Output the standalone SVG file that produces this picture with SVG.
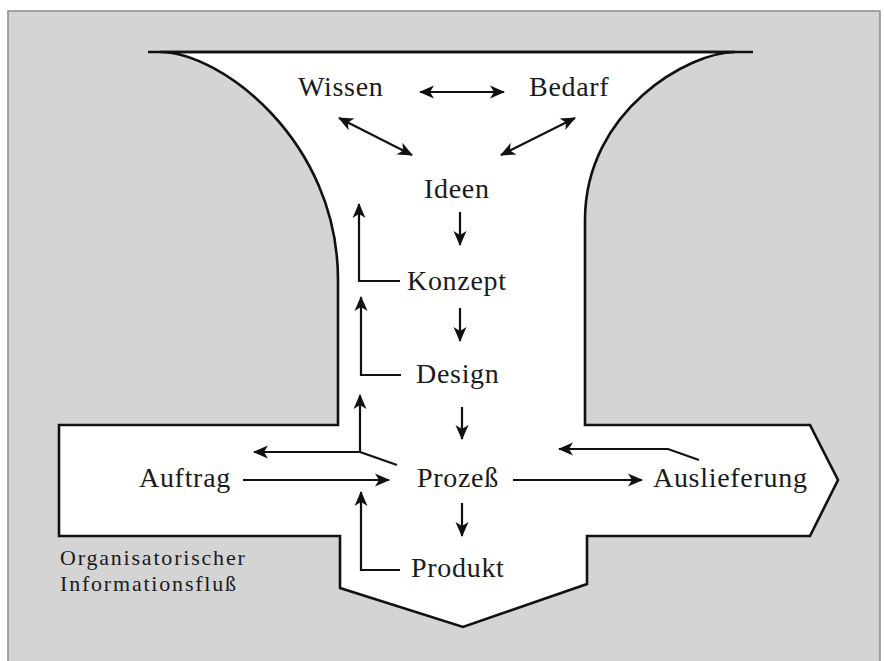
<svg xmlns="http://www.w3.org/2000/svg" width="884" height="661" viewBox="0 0 884 661">
<style>
.lbl{font-family:"Liberation Serif","Times New Roman",serif;font-size:28px;letter-spacing:0.7px;fill:#1a1a1a}
.small{font-family:"Liberation Serif","Times New Roman",serif;font-size:22px;letter-spacing:1.8px;fill:#1a1a1a}
.edge{fill:none;stroke:#111;stroke-width:2.2}
.outline{fill:#fff;stroke:#111;stroke-width:2.6;stroke-linejoin:miter}
</style>
<defs>
<marker id="ah" viewBox="-15 -7 16 14" refX="0" refY="0" markerWidth="16" markerHeight="14" markerUnits="userSpaceOnUse" orient="auto-start-reverse">
<path d="M1,0 L-14,-6.5 L-10,0 L-14,6.5 Z" fill="#111"/>
</marker>
</defs>
<rect x="0" y="0" width="884" height="661" fill="#fff"/>
<rect x="8" y="11" width="872" height="670" fill="#d4d4d4" stroke="#8a8a8a" stroke-width="1.5"/>
<g id="funnel">
<path class="outline" d="M160,52 L735,52 C690,52 585,110 585,220 L585,425 L810,425 L838,480 L810,536 L587,536 L587,584 L463,627 L340,588 L340,536 L59,536 L59,425 L338,425 L338,280 C338,140 220,52 160,52 Z"/>
<line x1="148" y1="52" x2="753" y2="52" stroke="#111" stroke-width="2.6"/>
</g>
<g id="wissen"><text class="lbl" x="298" y="96">Wissen</text></g>
<g id="bedarf"><text class="lbl" x="529" y="96">Bedarf</text></g>
<g id="ideen"><text class="lbl" x="424" y="198">Ideen</text></g>
<g id="konzept"><text class="lbl" x="407" y="290">Konzept</text></g>
<g id="design"><text class="lbl" x="416" y="383">Design</text></g>
<g id="auftrag"><text class="lbl" x="139" y="487">Auftrag</text></g>
<g id="prozess"><text class="lbl" x="417" y="487">Prozeß</text></g>
<g id="auslieferung"><text class="lbl" x="653" y="487">Auslieferung</text></g>
<g id="produkt"><text class="lbl" x="411" y="577">Produkt</text></g>
<g id="org-label">
<text class="small" x="60" y="565">Organisatorischer</text>
<text class="small" x="60" y="591">Informationsfluß</text>
</g>
<g id="connectors">
<line class="edge" x1="420" y1="92" x2="504" y2="92" marker-start="url(#ah)" marker-end="url(#ah)"/>
<line class="edge" x1="339" y1="118" x2="412" y2="155" marker-start="url(#ah)" marker-end="url(#ah)"/>
<line class="edge" x1="501" y1="155" x2="575" y2="118" marker-start="url(#ah)" marker-end="url(#ah)"/>
<line class="edge" x1="460" y1="212" x2="460" y2="245" marker-end="url(#ah)"/>
<line class="edge" x1="460" y1="308" x2="460" y2="341" marker-end="url(#ah)"/>
<line class="edge" x1="462" y1="407" x2="462" y2="439" marker-end="url(#ah)"/>
<line class="edge" x1="462" y1="503" x2="462" y2="536" marker-end="url(#ah)"/>
<polyline class="edge" points="400,281 359,281 359,204" marker-end="url(#ah)"/>
<polyline class="edge" points="401,375 361,375 361,297" marker-end="url(#ah)"/>
<polyline class="edge" points="397,465 360,452 360,395" marker-end="url(#ah)"/>
<line class="edge" x1="360" y1="452" x2="254" y2="452" marker-end="url(#ah)"/>
<polyline class="edge" points="400,570 361,570 361,492" marker-end="url(#ah)"/>
<line class="edge" x1="243" y1="480" x2="389" y2="480" marker-end="url(#ah)"/>
<line class="edge" x1="513" y1="480" x2="642" y2="480" marker-end="url(#ah)"/>
<polyline class="edge" points="699,460 668,449 559,449" marker-end="url(#ah)"/>
</g>
</svg>
